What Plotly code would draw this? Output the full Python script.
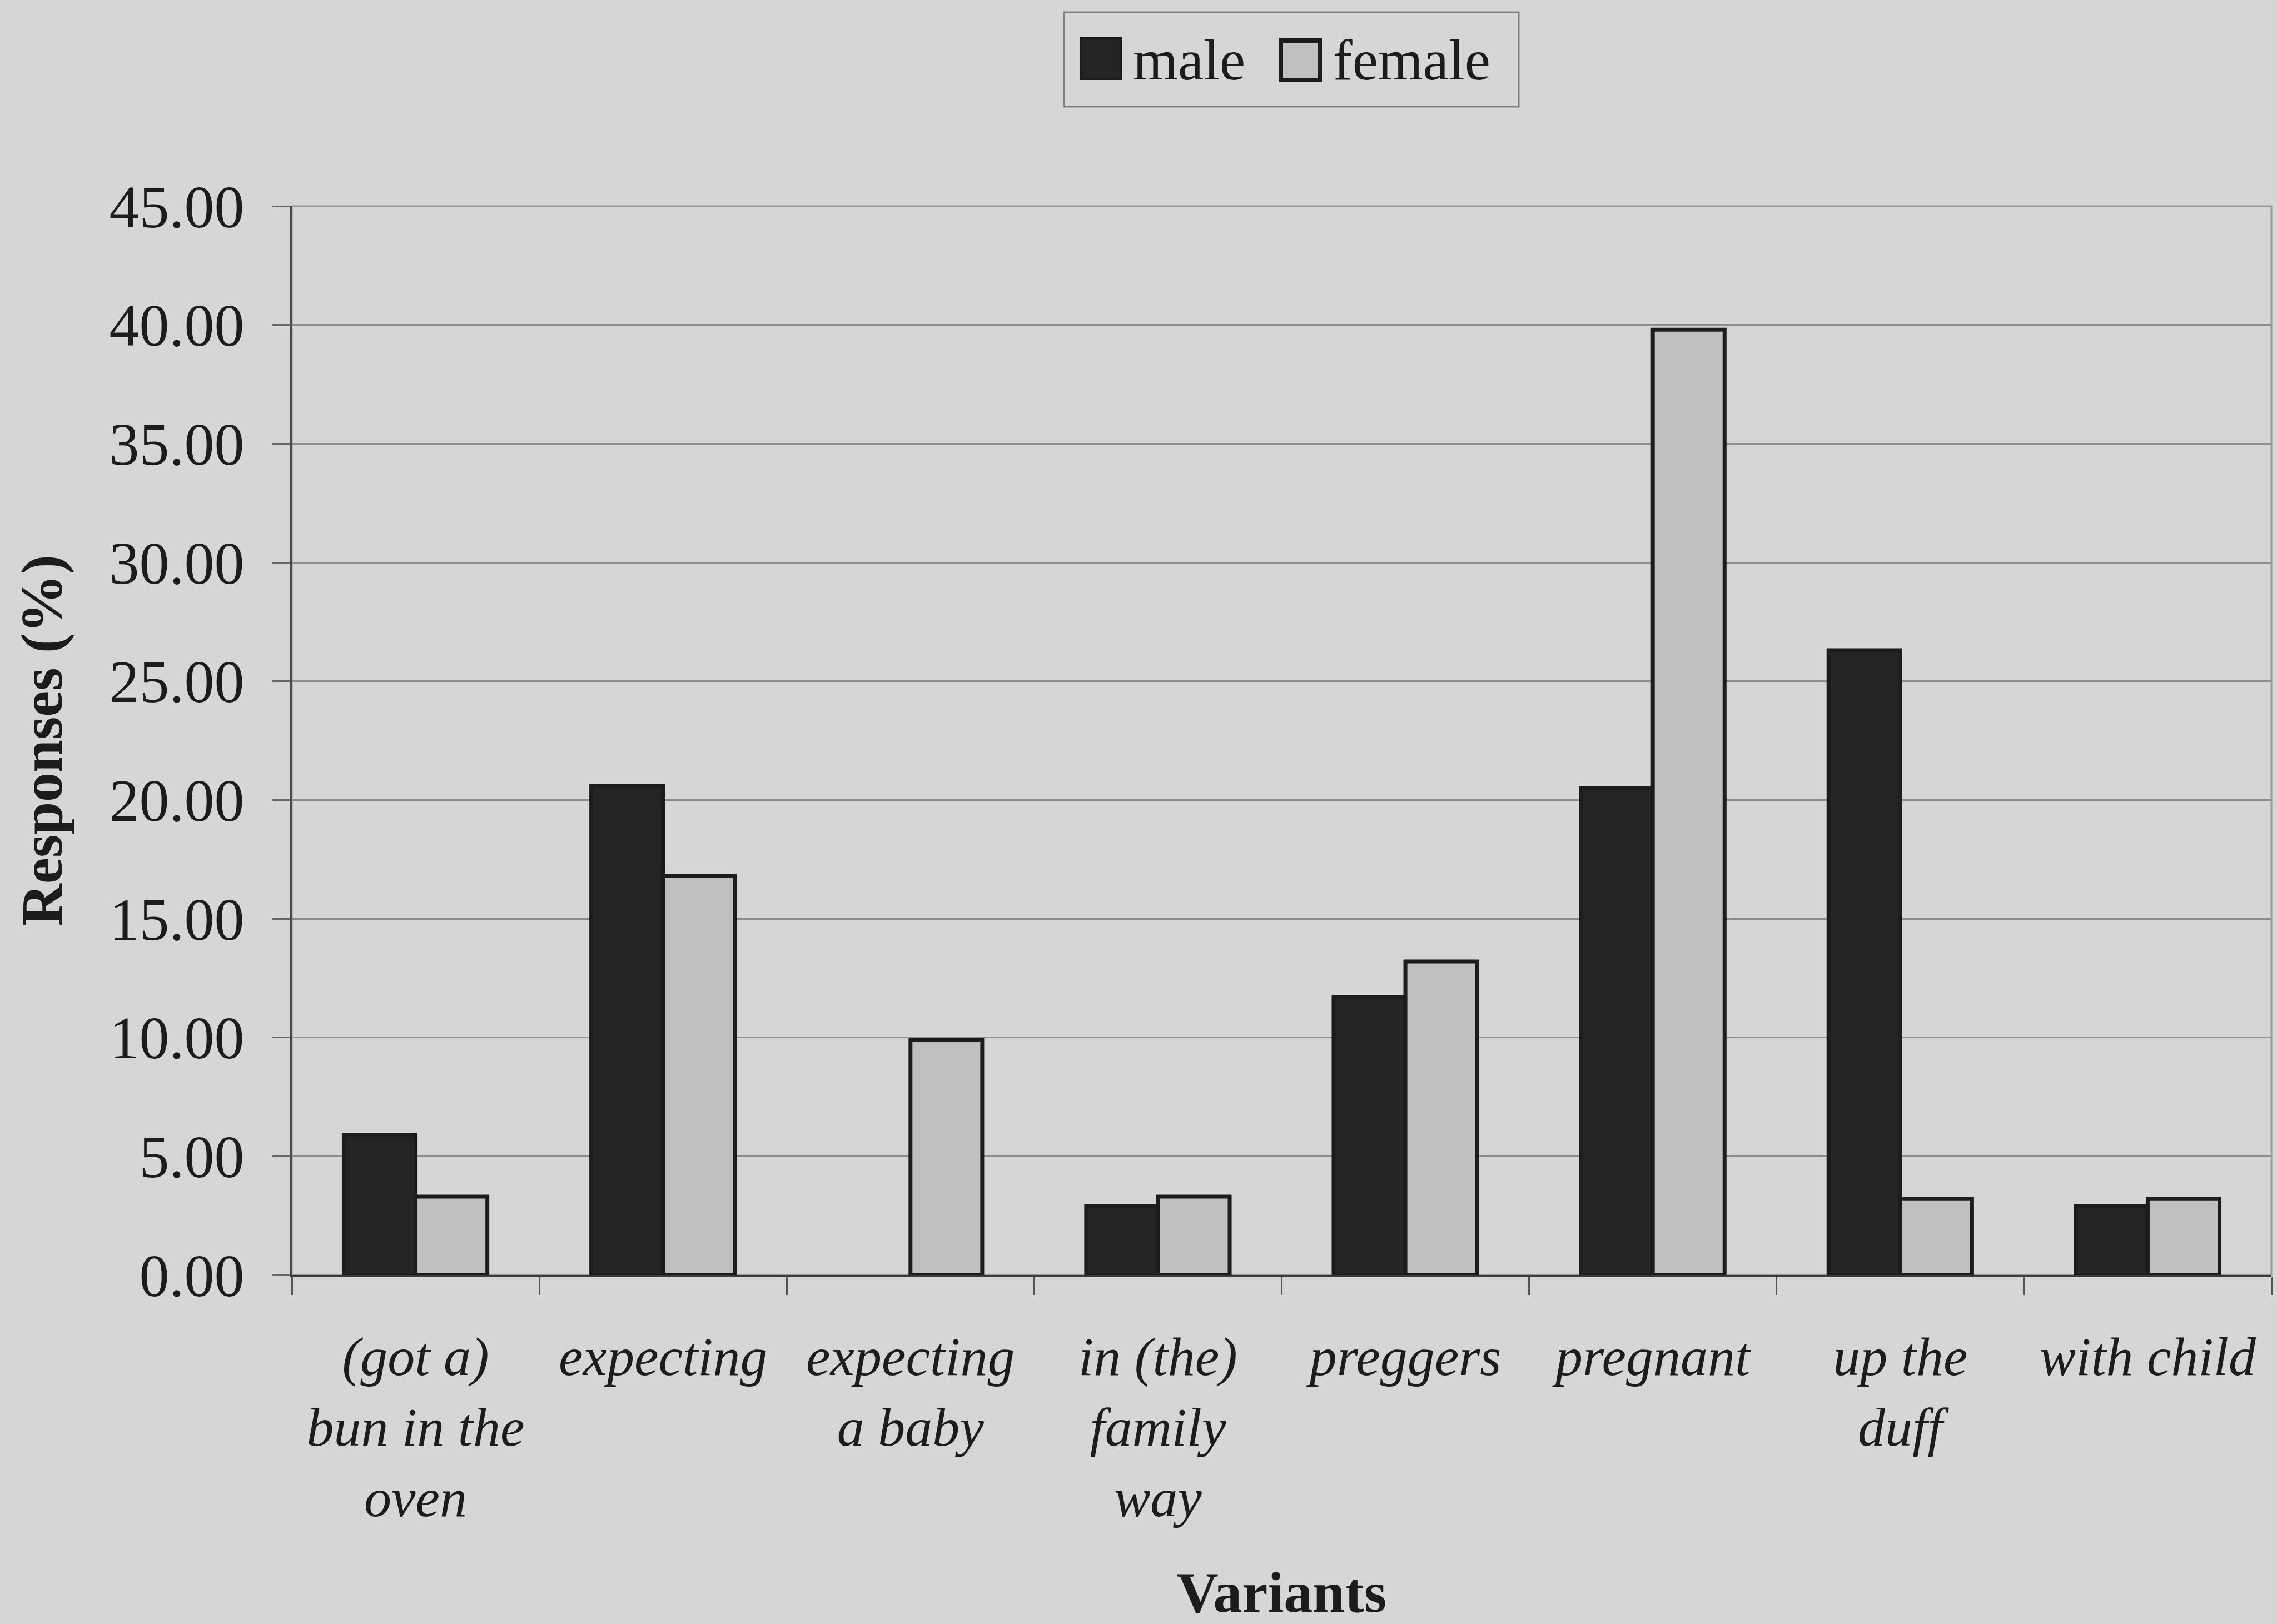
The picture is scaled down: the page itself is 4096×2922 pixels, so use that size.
import plotly.graph_objects as go

# Survey data: share of responses (%) per variant, by gender
variants = [
    "(got a)<br>bun in the<br>oven",
    "expecting",
    "expecting<br>a baby",
    "in (the)<br>family<br>way",
    "preggers",
    "pregnant",
    "up the<br>duff",
    "with child",
]
male = [5.9, 20.6, 0.0, 2.9, 11.7, 20.5, 26.3, 2.9]
female = [3.3, 16.8, 9.9, 3.3, 13.2, 39.8, 3.2, 3.2]
y_ticks = [0, 5, 10, 15, 20, 25, 30, 35, 40, 45]

W, H = 4096, 2922
L, R, T, B = 525, 10, 371, 628

BG = "#d6d6d6"
INK = "#1c1c1c"
SERIF = "Liberation Serif, Times New Roman, serif"
OUTLINE = 7


def px_x(px):
    return (px - L) / (W - L - R)


def px_y(py):
    return (H - B - py) / (H - T - B)


def outline_widths(values):
    # empty bars get no outline so nothing is drawn on the baseline
    return [OUTLINE if v > 0 else 0 for v in values]


fig = go.Figure()
fig.add_trace(go.Bar(
    x=variants, y=male, name="male",
    marker=dict(color="#242424", line=dict(color=INK, width=outline_widths(male))),
))
fig.add_trace(go.Bar(
    x=variants, y=female, name="female",
    marker=dict(color="#c0c0c0", line=dict(color=INK, width=outline_widths(female))),
))

fig.update_layout(
    width=W, height=H,
    margin=dict(l=L, r=R, t=T, b=B, autoexpand=False),
    paper_bgcolor=BG, plot_bgcolor=BG,
    barmode="group", bargap=0.42, bargroupgap=0.0,
    showlegend=False,
    font=dict(family=SERIF, color=INK, size=100),
)

fig.update_xaxes(
    type="category",
    showline=True, linecolor="#3a3a3a", linewidth=4,
    ticks="outside", tickson="boundaries", ticklen=32, tickwidth=3, tickcolor="#555555",
    tickfont=dict(family=SERIF, size=98, style="italic", color=INK),
    ticklabelstandoff=58,
    showgrid=False,
    title=dict(text="<b>Variants</b>", font=dict(family=SERIF, size=104, color=INK), standoff=80),
)
fig.update_yaxes(
    range=[0, 45], tickvals=y_ticks, tickformat=".2f",
    showline=True, linecolor="#4a4a4a", linewidth=4,
    ticks="outside", ticklen=31, tickwidth=3, tickcolor="#666666",
    tickfont=dict(family=SERIF, size=108, color=INK),
    ticklabelstandoff=29,
    showgrid=True, gridcolor="#8e8e8e", gridwidth=3,
    zeroline=False,
    title=dict(text="<b>Responses (%)</b>", font=dict(family=SERIF, size=106, color=INK), standoff=50),
)

# Plot-area frame
fig.add_shape(type="rect", xref="paper", yref="paper", x0=0, x1=1, y0=0, y1=1,
              line=dict(color="#9a9a9a", width=3), layer="below")

# Legend box with swatches
fig.add_shape(type="rect", xref="paper", yref="paper",
              x0=px_x(1914), x1=px_x(2732), y0=px_y(192), y1=px_y(22),
              line=dict(color="#808080", width=3), fillcolor=BG)
fig.add_shape(type="rect", xref="paper", yref="paper",
              x0=px_x(1945), x1=px_x(2016), y0=px_y(142), y1=px_y(68),
              line=dict(color=INK, width=4), fillcolor="#242424")
fig.add_shape(type="rect", xref="paper", yref="paper",
              x0=px_x(2304), x1=px_x(2374), y0=px_y(144), y1=px_y(73),
              line=dict(color=INK, width=8), fillcolor="#c0c0c0")
fig.add_annotation(text="male", xref="paper", yref="paper", x=px_x(2036), y=px_y(108),
                   xanchor="left", yanchor="middle", showarrow=False,
                   font=dict(family=SERIF, size=104, color=INK))
fig.add_annotation(text="female", xref="paper", yref="paper", x=px_x(2396), y=px_y(108),
                   xanchor="left", yanchor="middle", showarrow=False,
                   font=dict(family=SERIF, size=104, color=INK))

fig.write_html("out.html")
